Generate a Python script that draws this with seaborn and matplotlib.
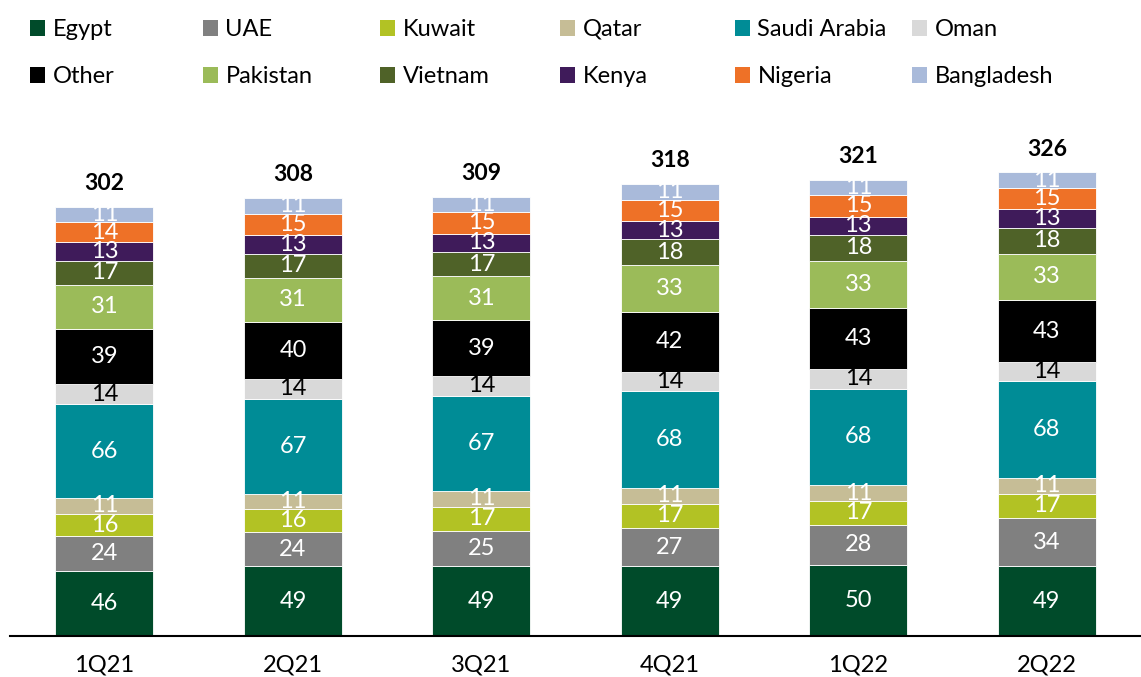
import numpy as np
import pandas as pd
import matplotlib.pyplot as plt
from matplotlib.patches import Patch
import seaborn as sns

# Dados: quarters e valores por país (de baixo para cima)
quarters = ["1Q21", "2Q21", "3Q21", "4Q21", "1Q22", "2Q22"]
countries = ["Egypt", "UAE", "Kuwait", "Qatar", "Saudi Arabia", "Oman",
             "Other", "Pakistan", "Vietnam", "Kenya", "Nigeria", "Bangladesh"]
egypt = [46, 49, 49, 49, 50, 49]
uae = [24, 24, 25, 27, 28, 34]
kuwait = [16, 16, 17, 17, 17, 17]
qatar = [11, 11, 11, 11, 11, 11]
saudi = [66, 67, 67, 68, 68, 68]
oman = [14, 14, 14, 14, 14, 14]
other = [39, 40, 39, 42, 43, 43]
pakistan = [31, 31, 31, 33, 33, 33]
vietnam = [17, 17, 17, 18, 18, 18]
kenya = [13, 13, 13, 13, 13, 13]
nigeria = [14, 15, 15, 15, 15, 15]
bangladesh = [11, 11, 11, 11, 11, 11]
totals = [302, 308, 309, 318, 321, 326]

series = [egypt, uae, kuwait, qatar, saudi, oman, other, pakistan,
          vietnam, kenya, nigeria, bangladesh]
colors = ["#004B2A", "#808080", "#B2C224", "#C6BD96", "#008C96", "#D9D9D9",
          "#000000", "#9BBB59", "#4F6228", "#3F1B5A", "#EE7127", "#A9BADA"]
label_colors = ["white"] * 12
label_colors[5] = "black"

plt.rcParams['font.family'] = ['Lato', 'DejaVu Sans']

fig = plt.figure(figsize=(11.41, 6.77), dpi=100)
ax = fig.add_axes([0.009, 0.0606, 0.991, 0.777])

bottom = np.zeros(len(quarters))
for name, vals, c, tc in zip(countries, series, colors, label_colors):
    sns.barplot(x=quarters, y=vals, bottom=bottom, color=c, saturation=1,
                width=0.52, edgecolor="white", linewidth=0.6, ax=ax)
    for i, v in enumerate(vals):
        ax.text(i, bottom[i] + v / 2, str(v), ha="center", va="center",
                color=tc, fontsize=17)
    bottom = bottom + np.array(vals)

for i, t in enumerate(totals):
    ax.text(i, bottom[i] + 9, str(t), ha="center", va="bottom",
            fontsize=16.5, fontweight="bold", color="black")

ax.set_xlim(-0.5, 5.5)
ax.set_ylim(0, 370)
ax.set_yticks([])
ax.set_ylabel("")
ax.tick_params(axis="x", length=0, labelsize=17, pad=13)
for s in ["top", "right", "left"]:
    ax.spines[s].set_visible(False)
ax.spines["bottom"].set_linewidth(1.5)
ax.spines["bottom"].set_color("black")

# Legenda: 6 colunas com espaçamento fixo
col_x = [30, 203, 380, 560, 735, 912]
for j in range(6):
    handles = [Patch(facecolor=colors[j], label=countries[j]),
               Patch(facecolor=colors[j + 6], label=countries[j + 6])]
    fig.legend(handles=handles, loc="upper left",
               bbox_to_anchor=(col_x[j] / 1141, 0.972), frameon=False,
               borderpad=0, borderaxespad=0, handlelength=0.65,
               handleheight=0.65, handletextpad=0.3, labelspacing=1.1,
               fontsize=17)

fig.savefig("out.png", dpi=100)
